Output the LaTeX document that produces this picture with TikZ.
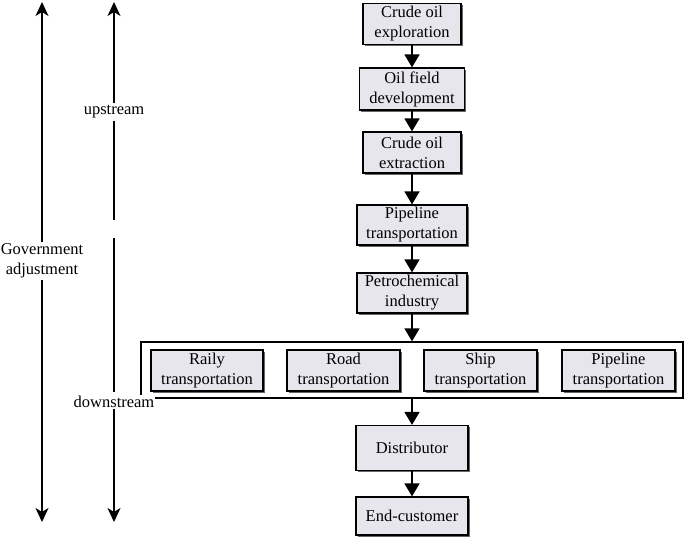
\documentclass[tikz,border=0pt]{standalone}
\usepackage{fontspec}
\setmainfont{Liberation Serif}
\usetikzlibrary{arrows.meta,shadows}
\definecolor{boxfill}{HTML}{E6E6EC}
\tikzset{
  fbox/.style={draw=black, line width=1.2pt, fill=boxfill, align=center, inner sep=1pt,
    font=\fontsize{16.5}{20}\selectfont,
    drop shadow={shadow xshift=1.8pt, shadow yshift=-1.8pt, fill=black!60, opacity=1}},
  flow/.style={line width=1.6pt, -{Triangle[width=15pt,length=13pt]}},
  side/.style={line width=1.4pt, -{Stealth[width=13pt,length=14pt,inset=4pt]}},
  lbl/.style={fill=white, align=center, inner sep=2pt, font=\fontsize{16.5}{20}\selectfont}
}
\begin{document}
\begin{tikzpicture}[x=1pt,y=-1pt]
\useasboundingbox (0,0) rectangle (685,536);
% main chain
\node[fbox, minimum width=98, minimum height=41] (b1) at (412,24) {Crude oil\\exploration};
\node[fbox, minimum width=105, minimum height=42] (b2) at (412,89) {Oil field\\development};
\node[fbox, minimum width=98, minimum height=41] (b3) at (412,152.5) {Crude oil\\extraction};
\node[fbox, minimum width=110, minimum height=40] (b4) at (412,225) {Pipeline\\transportation};
\node[fbox, minimum width=110, minimum height=40] (b5) at (412,293) {Petrochemical\\industry};
% frame
\node[draw=black, line width=1.3pt, minimum width=542, minimum height=56, inner sep=0pt] (frame) at (412,370) {};
\node[fbox, minimum width=112, minimum height=41] (t1) at (207,370.5) {Raily\\transportation};
\node[fbox, minimum width=113, minimum height=41] (t2) at (343.5,370.5) {Road\\transportation};
\node[fbox, minimum width=113, minimum height=41] (t3) at (480.5,370.5) {Ship\\transportation};
\node[fbox, minimum width=113, minimum height=41] (t4) at (618.5,370.5) {Pipeline\\transportation};
\node[fbox, minimum width=112, minimum height=45] (d) at (412,448) {Distributor};
\node[fbox, minimum width=112, minimum height=38] (e) at (412,516) {End-customer};
% flow arrows
\draw[flow] (b1) -- (b2);
\draw[flow] (b2) -- (b3);
\draw[flow] (b3) -- (b4);
\draw[flow] (b4) -- (b5);
\draw[flow] (b5) -- (frame);
\draw[flow] (frame) -- (d);
\draw[flow] (d) -- (e);
% left side arrows
\coordinate (gtop) at (42,2);
\coordinate (gbot) at (42,522);
\coordinate (utop) at (114,2);
\coordinate (ubot) at (114,220);
\coordinate (dtop) at (114,238);
\coordinate (dbot) at (114,522);
\node[lbl] (gov) at (42,261) {Government\\adjustment};
\node[lbl] (up) at (114,112) {upstream};
\draw[side] (gov) -- (gtop);
\draw[side] (gov) -- (gbot);
\draw[side] (up) -- (utop);
\draw[line width=1.4pt] (up) -- (ubot);
\draw[line width=1.4pt] (dtop) -- (114,392);
\node[lbl, inner sep=1pt] (down) at (114,402) {downstream};
\draw[side] (down) -- (dbot);
\end{tikzpicture}
\end{document}
